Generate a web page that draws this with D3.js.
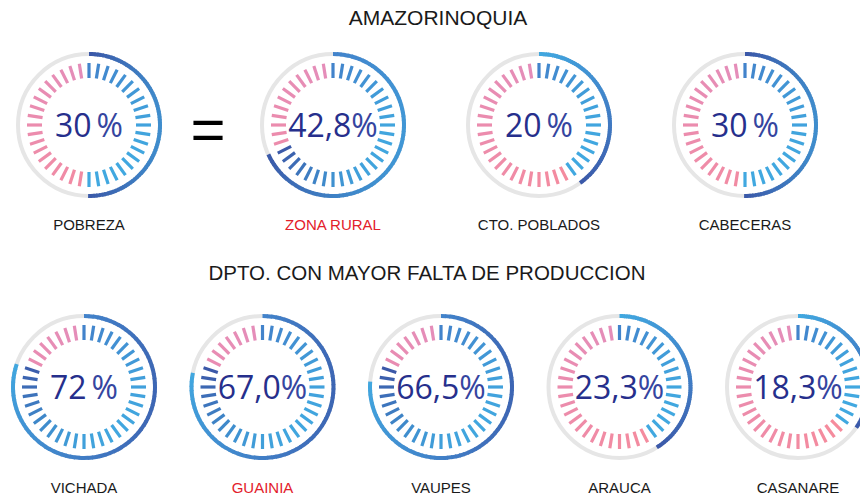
<!DOCTYPE html>
<html>
<head>
<meta charset="utf-8">
<script src="https://cdn.jsdelivr.net/npm/d3@7"></script>
<style>
  body { margin: 0; background: #fff; }
  text { font-family: "Liberation Sans Narrow", "Liberation Sans", sans-serif; }
  .num { font-family: "Open Sans", "Noto Sans", sans-serif; font-weight: 400; }
</style>
</head>
<body>
<div id="chart"></div>
<script>
// Top row: Amazorinoquia
const topLabels = ["POBREZA", "ZONA RURAL", "CTO. POBLADOS", "CABECERAS"];
const topValues = ["30", "42,8", "20", "30"];
const topFill = [0.5, 0.68, 0.4, 0.5];        // share of ring drawn in blue
const topTicks = [0.5, 0.68, 0.4, 0.5];       // share of inner ticks drawn blue
const topHighlight = [false, true, false, false];

// Bottom row: departments
const botLabels = ["VICHADA", "GUAINIA", "VAUPES", "ARAUCA", "CASANARE"];
const botValues = ["72", "67,0", "66,5", "23,3", "18,3"];
const botFill = [0.8, 0.78, 0.76, 0.41, 0.345];
const botTicks = [0.82, 0.8, 0.8, 0.41, 0.35];
const botHighlight = [false, true, false, false, false];

const titles = ["AMAZORINOQUIA", "DPTO. CON MAYOR FALTA DE PRODUCCION"];

const width = 860, height = 497;
const light = "#41a8e0", mid = "#4283cb", dark = "#3b58a8";

const svg = d3.select("#chart").append("svg")
    .attr("width", width)
    .attr("height", height);

const angle = d3.scaleLinear().domain([0, 1]).range([0, 2 * Math.PI]);
const nTicks = 40;
const ringR = 71, ringW = 4, tickIn = 47, tickOut = 62;

function arcPalette(f) {
  if (f > 0.7) return [mid, dark, mid, light];
  if (f > 0.6) return [mid, light, dark];
  if (f > 0.45) return [dark, light, dark];
  return [light, mid, dark];
}

function gauge(g, value, fill, tickShare) {
  // grey background ring
  g.append("circle")
      .attr("r", ringR)
      .attr("fill", "none")
      .attr("stroke", "#e6e6e6")
      .attr("stroke-width", ringW);

  // blue ring split into small pieces for the gradient
  const pal = d3.interpolateRgbBasis(arcPalette(fill));
  const segs = d3.range(80).map(i => i / 80);
  const arc = d3.arc().innerRadius(ringR - ringW / 2).outerRadius(ringR + ringW / 2);
  g.selectAll("path.seg")
    .data(segs)
    .join("path")
      .attr("class", "seg")
      .attr("d", t => arc({startAngle: angle(t * fill), endAngle: angle(Math.min(1, (t + 1 / 80) * fill + 0.002))}))
      .attr("fill", t => pal(t));

  // ticks
  const tickPal = d3.interpolateRgbBasis(tickShare > 0.6 ? [mid, light, light, dark] : [mid, light, light]);
  const pinkPal = d3.interpolateRgb("#f28ba2", "#e48dba");
  g.selectAll("line.tick")
    .data(d3.range(nTicks).map(i => i / nTicks))
    .join("line")
      .attr("class", "tick")
      .attr("x1", t => tickIn * Math.sin(angle(t)))
      .attr("y1", t => -tickIn * Math.cos(angle(t)))
      .attr("x2", t => tickOut * Math.sin(angle(t)))
      .attr("y2", t => -tickOut * Math.cos(angle(t)))
      .attr("stroke-width", 3.2)
      .attr("stroke", t => t <= tickShare + 1e-6
          ? tickPal(t / tickShare)
          : pinkPal((t - 0.5) / 0.5));

  // value
  const spaced = value.indexOf(",") < 0;
  const txt = g.append("text")
      .attr("class", "num")
      .attr("text-anchor", "middle")
      .attr("y", 12)
      .attr("font-size", 32);
  txt.append("tspan").attr("fill", "#262f8c").text(value);
  txt.append("tspan").attr("fill", "#3545a0").attr("dx", spaced ? 5 : 0).text("%");
}

// top row positions
const xTop = d3.scalePoint().domain(topLabels.slice(1)).range([333, 745]);
const topX = topLabels.map((d, i) => i === 0 ? 89 : xTop(d));
const xBot = d3.scalePoint().domain(botLabels).range([84, 798]);

topLabels.forEach((d, i) => {
  const g = svg.append("g").attr("transform", `translate(${topX[i]},125)`);
  gauge(g, topValues[i], topFill[i], topTicks[i]);
  svg.append("text")
      .attr("x", topX[i]).attr("y", 230)
      .attr("text-anchor", "middle")
      .attr("font-size", 15)
      .attr("fill", topHighlight[i] ? "#e3202b" : "#1a1a1a")
      .text(d);
});

botLabels.forEach((d, i) => {
  const g = svg.append("g").attr("transform", `translate(${xBot(d)},387)`);
  gauge(g, botValues[i], botFill[i], botTicks[i]);
  svg.append("text")
      .attr("x", xBot(d)).attr("y", 493)
      .attr("text-anchor", "middle")
      .attr("font-size", 15)
      .attr("fill", botHighlight[i] ? "#e3202b" : "#1a1a1a")
      .text(d);
});

// equals sign
svg.append("text")
    .attr("x", 208).attr("y", 150)
    .attr("text-anchor", "middle")
    .attr("font-family", "Liberation Sans")
    .attr("font-size", 60)
    .attr("fill", "#000")
    .text("=");

// titles
svg.append("text")
    .attr("x", 438).attr("y", 25)
    .attr("text-anchor", "middle")
    .attr("font-size", 21)
    .attr("fill", "#1a1a1a")
    .text(titles[0]);

svg.append("text")
    .attr("x", 427).attr("y", 280)
    .attr("text-anchor", "middle")
    .attr("font-size", 20.5)
    .attr("fill", "#1a1a1a")
    .text(titles[1]);
</script>
</body>
</html>
